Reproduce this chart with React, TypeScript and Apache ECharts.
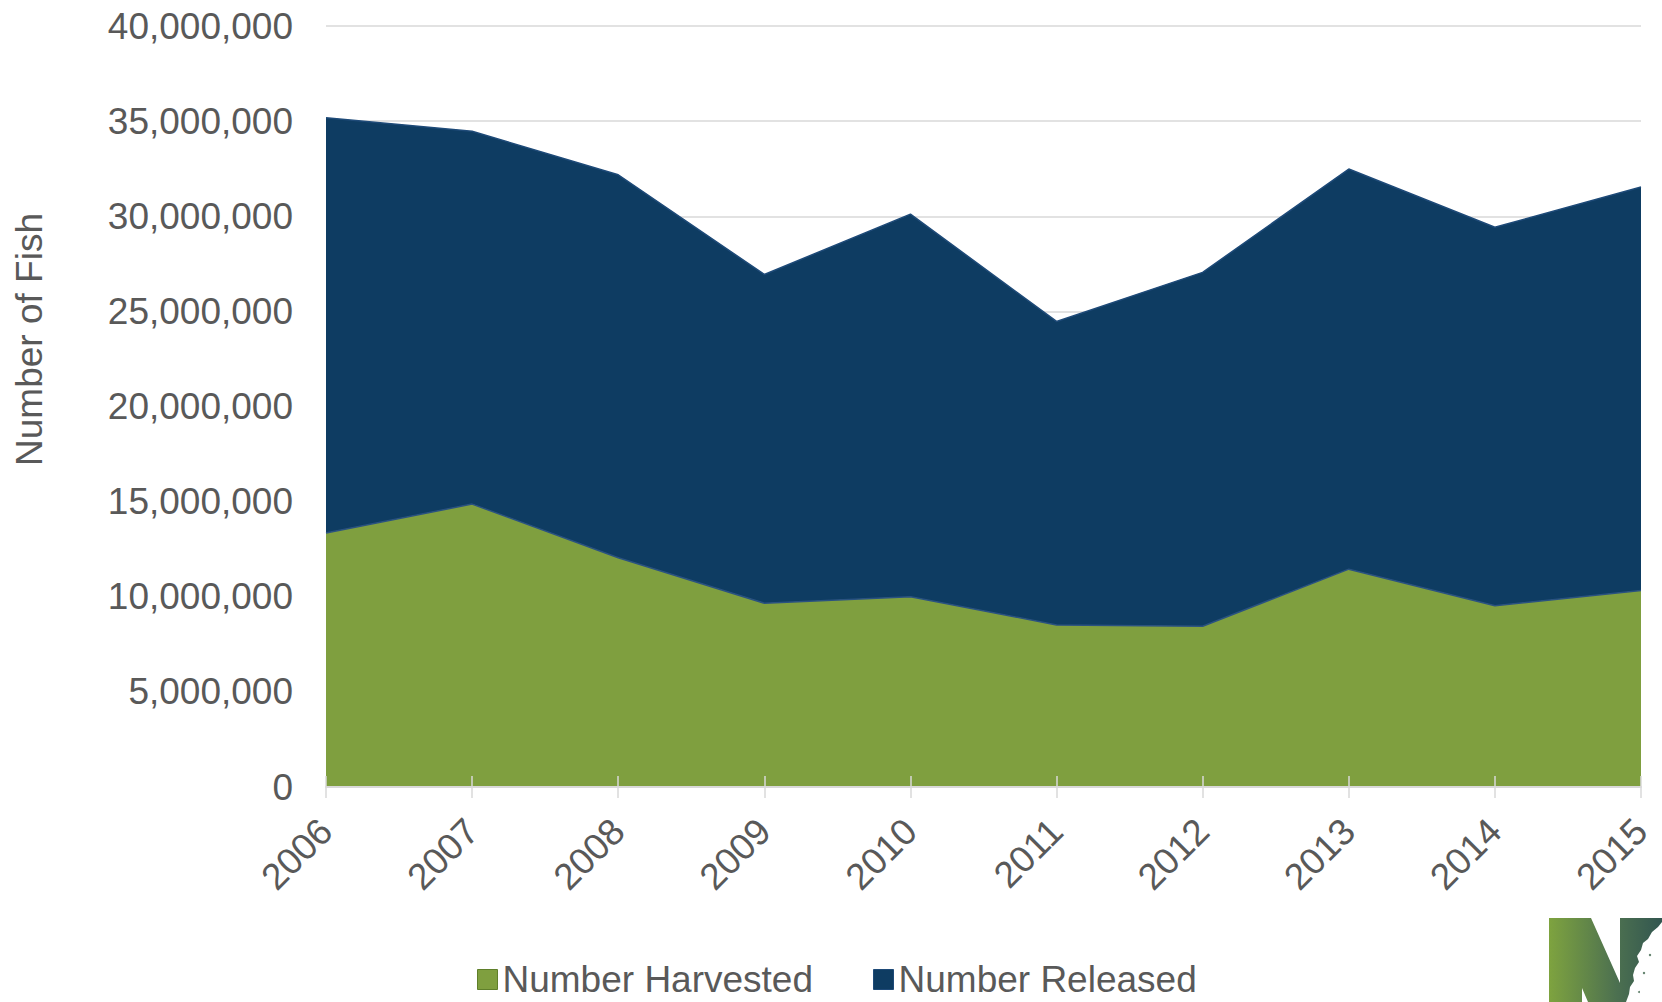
import React, { useEffect, useRef } from "react";
import * as echarts from "echarts";

const years = ["2006", "2007", "2008", "2009", "2010", "2011", "2012", "2013", "2014", "2015"];
const harvested = [13350000, 14870000, 12050000, 9660000, 10000000, 8520000, 8450000, 11450000, 9530000, 10330000];
const released = [21830000, 19600000, 20130000, 17280000, 20110000, 15950000, 18600000, 21030000, 19890000, 21210000];
const yTickMax = 40000000;
const yTickStep = 5000000;

const FONT = "Arial, 'Liberation Sans', sans-serif";
const GREEN = "#7f9f3f";
const BLUE = "#0e3c62";
const TEXT = "#595959";
const GRID = "#d9d9d9";

function fmt(v: number): string {
  return String(v).replace(/\B(?=(\d{3})+(?!\d))/g, ",");
}

export default function App() {
  const ref = useRef<HTMLDivElement>(null);
  useEffect(() => {
    if (!ref.current) return;
    const chart = echarts.init(ref.current, undefined, { renderer: "svg" });
    const speck = "#5f7f6a";
    chart.setOption({
      animation: false,
      backgroundColor: "#ffffff",
      grid: { left: 326, right: 21, top: 26, bottom: 215, containLabel: false },
      legend: {
        left: 472,
        top: 956,
        itemWidth: 20,
        itemHeight: 20,
        itemGap: 60,
        icon: "rect",
        selectedMode: false,
        textStyle: { fontFamily: FONT, fontSize: 37, color: TEXT, lineHeight: 36 },
        data: [
          { name: "Number Harvested", itemStyle: { color: GREEN, borderColor: "#5f7f2a", borderWidth: 1 } },
          { name: "Number Released", itemStyle: { color: BLUE, borderColor: "#1e4a78", borderWidth: 1 } },
        ],
      },
      xAxis: [
        {
          type: "category",
          data: years,
          boundaryGap: false,
          z: 5,
          axisLine: { show: true, lineStyle: { color: GRID, width: 2 } },
          axisTick: { show: true, length: 11, lineStyle: { color: GRID, width: 1.5 } },
          axisLabel: {
            rotate: 45,
            margin: 38,
            fontFamily: FONT,
            fontSize: 37,
            color: TEXT,
          },
        },
        {
          type: "category",
          data: years,
          boundaryGap: false,
          position: "bottom",
          z: 5,
          axisLine: { show: false },
          axisTick: { show: true, inside: true, length: 11, lineStyle: { color: GRID, width: 1.5 } },
          axisLabel: { show: false },
        },
      ],
      yAxis: {
        type: "value",
        min: 0,
        max: yTickMax,
        interval: yTickStep,
        name: "Number of Fish",
        nameLocation: "middle",
        nameGap: 278,
        nameRotate: 90,
        nameTextStyle: { fontFamily: FONT, fontSize: 37, color: TEXT, padding: [0, 0, 0, 134] },
        axisLine: { show: false },
        axisTick: { show: false },
        axisLabel: {
          margin: 33,
          fontFamily: FONT,
          fontSize: 37,
          color: TEXT,
          formatter: (v: number) => fmt(v),
        },
        splitLine: { show: true, lineStyle: { color: GRID, width: 1.5 } },
      },
      series: [
        {
          name: "Number Harvested",
          type: "line",
          stack: "total",
          data: harvested,
          symbol: "none",
          itemStyle: { color: GREEN },
          lineStyle: { color: "#2a5280", width: 1.5 },
          areaStyle: { color: GREEN, opacity: 1 },
          z: 2,
        },
        {
          name: "Number Released",
          type: "line",
          stack: "total",
          data: released,
          symbol: "none",
          itemStyle: { color: BLUE },
          lineStyle: { color: "#1e4a78", width: 1.5 },
          areaStyle: { color: BLUE, opacity: 1 },
          z: 2,
        },
      ],
      graphic: [
        {
          type: "polygon",
          z: 10,
          shape: {
            points: [
              [1549, 918], [1591, 918], [1620, 983], [1620, 918], [1662, 918],
              [1662, 1002], [1588, 1002], [1582, 988], [1582, 1002], [1549, 1002],
            ],
          },
          style: {
            fill: new echarts.graphic.LinearGradient(0, 0, 1, 0, [
              { offset: 0, color: "#7ea33f" },
              { offset: 0.6, color: "#4c7050" },
              { offset: 1, color: "#325650" },
            ]),
          },
        },
        {
          type: "polygon",
          z: 11,
          shape: {
            points: [
              [1662, 922], [1658, 927], [1652, 932], [1648, 939], [1643, 943], [1641, 950],
              [1637, 956], [1639, 962], [1635, 968], [1633, 975], [1634, 981], [1630, 987],
              [1629, 994], [1626, 1002], [1662, 1002],
            ],
          },
          style: { fill: "#ffffff" },
        },
        { type: "circle", z: 12, shape: { cx: 1650, cy: 955, r: 1.2 }, style: { fill: speck } },
        { type: "circle", z: 12, shape: { cx: 1644, cy: 973, r: 1.2 }, style: { fill: speck } },
        { type: "circle", z: 12, shape: { cx: 1639, cy: 992, r: 1 }, style: { fill: speck } },
      ],
    });
    return () => chart.dispose();
  }, []);
  return (
    <div
      ref={ref}
      style={{ position: "fixed", left: 0, top: 0, width: 1662, height: 1002, background: "#fff" }}
    />
  );
}
